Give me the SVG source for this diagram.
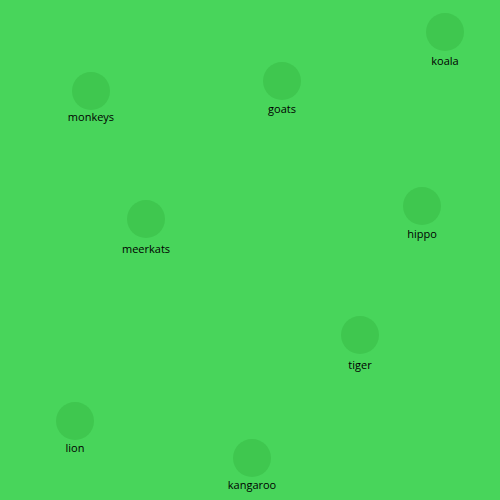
<svg xmlns="http://www.w3.org/2000/svg" width="500" height="500" viewBox="0 0 500 500">
<style>
.n circle{fill:#3fc74f}
.n text{font-family:"Open Sans","Noto Sans",sans-serif;font-size:11px;fill:#000;text-anchor:middle}
</style>
<rect width="500" height="500" fill="#48d55b"/>
<g id="connectors"></g>
<g id="koala" class="n"><circle cx="445" cy="32" r="19"/><text x="445" y="65">koala</text></g>
<g id="monkeys" class="n"><circle cx="91" cy="91" r="19"/><text x="91" y="121">monkeys</text></g>
<g id="goats" class="n"><circle cx="282" cy="81" r="19"/><text x="282" y="113">goats</text></g>
<g id="meerkats" class="n"><circle cx="146" cy="219" r="19"/><text x="146" y="253">meerkats</text></g>
<g id="hippo" class="n"><circle cx="422" cy="206" r="19"/><text x="422" y="238">hippo</text></g>
<g id="tiger" class="n"><circle cx="360" cy="335" r="19"/><text x="360" y="369">tiger</text></g>
<g id="lion" class="n"><circle cx="75" cy="421" r="19"/><text x="75" y="452">lion</text></g>
<g id="kangaroo" class="n"><circle cx="252" cy="458" r="19"/><text x="252" y="489">kangaroo</text></g>
</svg>
